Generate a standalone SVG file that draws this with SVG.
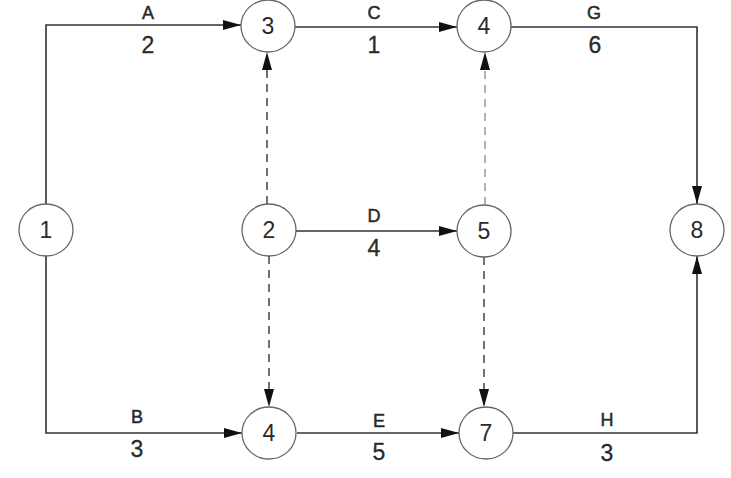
<svg xmlns="http://www.w3.org/2000/svg" width="731" height="478" viewBox="0 0 731 478">
<style>
.node ellipse{fill:#fff;stroke:#666;stroke-width:1.3}
.node text{font-family:"Liberation Sans",Arial,sans-serif;font-size:23px;fill:#2a2a2a;text-anchor:middle}
.edge{fill:none;stroke:#333;stroke-width:1.6}
.dash{fill:none;stroke:#444;stroke-width:1.5;stroke-dasharray:8 6}
.dash.light{stroke:#999}
.lbl{font-family:"Liberation Sans",Arial,sans-serif;fill:#2a2a2a;text-anchor:middle}
.let{font-size:18px;stroke:#2a2a2a;stroke-width:0.5}
.num{font-size:23px;stroke:#2a2a2a;stroke-width:0.3}
</style>
<defs>
<marker id="ah" markerUnits="userSpaceOnUse" markerWidth="20" markerHeight="12" refX="18" refY="6" orient="auto">
<path d="M0,1 L18,6 L0,11 Z" fill="#111"/>
</marker>
</defs>
<rect width="731" height="478" fill="#fff"/>
<g id="connectors">
<path class="edge" d="M46,204 V25 H241" marker-end="url(#ah)"/>
<path class="edge" d="M46,256 V433 H242" marker-end="url(#ah)"/>
<path class="edge" d="M295,27 H457" marker-end="url(#ah)"/>
<path class="edge" d="M511,27 H697 V204" marker-end="url(#ah)"/>
<path class="edge" d="M513,433 H697 V256" marker-end="url(#ah)"/>
<path class="edge" d="M296,231 H457" marker-end="url(#ah)"/>
<path class="edge" d="M297,433 H459" marker-end="url(#ah)"/>
<path class="dash" d="M267,204 V52" marker-end="url(#ah)"/>
<path class="dash light" d="M485,205 V52" marker-end="url(#ah)"/>
<path class="dash" d="M269,256 V407" marker-end="url(#ah)"/>
<path class="dash" d="M484,257 V407" marker-end="url(#ah)"/>
</g>
<g id="labels">
<text class="lbl let" x="148" y="19">A</text>
<text class="lbl num" x="148" y="53">2</text>
<text class="lbl let" x="374" y="19">C</text>
<text class="lbl num" x="374" y="53">1</text>
<text class="lbl let" x="594" y="19">G</text>
<text class="lbl num" x="595" y="53">6</text>
<text class="lbl let" x="374" y="222">D</text>
<text class="lbl num" x="374" y="256">4</text>
<text class="lbl let" x="137" y="423">B</text>
<text class="lbl num" x="137" y="457">3</text>
<text class="lbl let" x="379" y="427">E</text>
<text class="lbl num" x="379" y="460">5</text>
<text class="lbl let" x="607" y="426">H</text>
<text class="lbl num" x="607" y="461">3</text>
</g>
<g id="n1" class="node"><ellipse cx="46" cy="230" rx="27" ry="26"/><text x="46" y="238">1</text></g>
<g id="n3" class="node"><ellipse cx="268" cy="26" rx="27" ry="26"/><text x="268" y="34">3</text></g>
<g id="n4t" class="node"><ellipse cx="484" cy="26" rx="27" ry="26"/><text x="484" y="34">4</text></g>
<g id="n8" class="node"><ellipse cx="697" cy="230" rx="27" ry="26"/><text x="697" y="238">8</text></g>
<g id="n2" class="node"><ellipse cx="269" cy="230" rx="27" ry="26"/><text x="269" y="238">2</text></g>
<g id="n5" class="node"><ellipse cx="484" cy="231" rx="27" ry="26"/><text x="484" y="239">5</text></g>
<g id="n4b" class="node"><ellipse cx="269" cy="433" rx="27" ry="26"/><text x="269" y="441">4</text></g>
<g id="n7" class="node"><ellipse cx="486" cy="433" rx="27" ry="26"/><text x="486" y="441">7</text></g>
</svg>
